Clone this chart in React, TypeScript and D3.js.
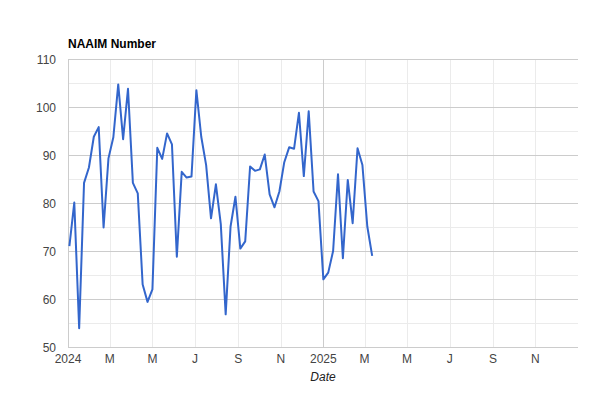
import React from "react";
import * as d3 from "d3";

const dates: string[] = [
  "2024-01-03","2024-01-10","2024-01-17","2024-01-24","2024-01-31",
  "2024-02-07","2024-02-14","2024-02-21","2024-02-28",
  "2024-03-06","2024-03-13","2024-03-20","2024-03-27",
  "2024-04-03","2024-04-10","2024-04-17","2024-04-24",
  "2024-05-01","2024-05-08","2024-05-15","2024-05-22","2024-05-29",
  "2024-06-05","2024-06-12","2024-06-19","2024-06-26",
  "2024-07-03","2024-07-10","2024-07-17","2024-07-24","2024-07-31",
  "2024-08-07","2024-08-14","2024-08-21","2024-08-28",
  "2024-09-04","2024-09-11","2024-09-18","2024-09-25",
  "2024-10-02","2024-10-09","2024-10-16","2024-10-23","2024-10-30",
  "2024-11-06","2024-11-13","2024-11-20","2024-11-27",
  "2024-12-04","2024-12-11","2024-12-18","2024-12-25",
  "2025-01-01","2025-01-08","2025-01-15","2025-01-22","2025-01-29",
  "2025-02-05","2025-02-12","2025-02-19","2025-02-26",
  "2025-03-05","2025-03-12",
];

const naaim: number[] = [
  71.0, 80.1, 53.9, 84.2, 87.4, 93.8, 95.8, 74.9, 89.3, 93.7,
  104.7, 93.3, 103.8, 84.2, 82.0, 63.0, 59.4, 62.0, 91.5, 89.2,
  94.5, 92.2, 68.8, 86.5, 85.3, 85.5, 103.5, 93.8, 87.9, 76.8,
  83.9, 75.6, 56.8, 75.1, 81.3, 70.5, 72.0, 87.6, 86.7, 87.0,
  90.1, 81.8, 79.1, 82.4, 88.5, 91.6, 91.3, 98.8, 85.6, 99.1,
  82.4, 80.4, 64.1, 65.5, 70.0, 86.0, 68.5, 84.8, 75.8, 91.4,
  87.9, 75.1, 69.0,
];

const xTickLabels: string[] = ["2024", "M", "M", "J", "S", "N", "2025", "M", "M", "J", "S", "N"];
const yTicks: number[] = [50, 60, 70, 80, 90, 100, 110];
const yMinorTicks: number[] = [55, 65, 75, 85, 95, 105];

const title = "NAAIM Number";
const xTitle = "Date";

export default function App() {
  const W = 610, H = 402;
  const left = 68, right = 578, top = 59, bottom = 347;
  const parse = d3.utcParse("%Y-%m-%d");
  const data = dates.map((d, i) => ({ date: parse(d) as Date, v: naaim[i] }));
  const x = d3.scaleUtc()
    .domain([new Date(Date.UTC(2024, 0, 1)), new Date(Date.UTC(2026, 0, 1))])
    .range([left, right]);
  const y = d3.scaleLinear().domain([50, 110]).range([bottom, top]);
  const xTicks = d3.utcMonth.every(2)!.range(new Date(Date.UTC(2024, 0, 1)), new Date(Date.UTC(2026, 0, 1)));
  const line = d3.line<{ date: Date; v: number }>()
    .x(d => x(d.date))
    .y(d => y(d.v));
  const font = "Arial, 'Liberation Sans', sans-serif";

  return (
    <svg width={W} height={H} style={{ position: "absolute", left: 0, top: 0, background: "#fff" }} fontFamily={font}>
      <rect x={0} y={0} width={W} height={H} fill="#fff" />
      {/* minor horizontal gridlines */}
      {yMinorTicks.map(t => (
        <line key={"ym" + t} x1={left} x2={right} y1={Math.round(y(t)) + 0.5} y2={Math.round(y(t)) + 0.5} stroke="#ebebeb" strokeWidth={1} />
      ))}
      {/* vertical gridlines */}
      {xTicks.map((t, i) => {
        const isYear = t.getUTCMonth() === 0;
        const xx = Math.round(x(t)) + 0.5;
        return (
          <line key={"xg" + i} x1={xx} x2={xx} y1={top} y2={bottom} stroke={isYear ? "#cccccc" : "#ebebeb"} strokeWidth={1} />
        );
      })}
      {/* major horizontal gridlines */}
      {yTicks.map(t => (
        <line key={"yg" + t} x1={left} x2={right} y1={Math.round(y(t)) + 0.5} y2={Math.round(y(t)) + 0.5} stroke="#cccccc" strokeWidth={1} />
      ))}
      {/* y labels */}
      {yTicks.map(t => (
        <text key={"yl" + t} x={56} y={y(t) + 4.5} textAnchor="end" fontSize={12} fill="#444">{t}</text>
      ))}
      {/* x labels */}
      {xTicks.map((t, i) => (
        <text key={"xl" + i} x={x(t)} y={362.5} textAnchor="middle" fontSize={12} fill="#444">{xTickLabels[i]}</text>
      ))}
      {/* line */}
      <path d={line(data) || ""} fill="none" stroke="#3366cc" strokeWidth={2} strokeLinejoin="round" />
      {/* titles */}
      <text x={68} y={48} fontSize={12} fontWeight="bold" fill="#000">{title}</text>
      <text x={(left + right) / 2} y={381} textAnchor="middle" fontSize={12} fontStyle="italic" fill="#222">{xTitle}</text>
    </svg>
  );
}
